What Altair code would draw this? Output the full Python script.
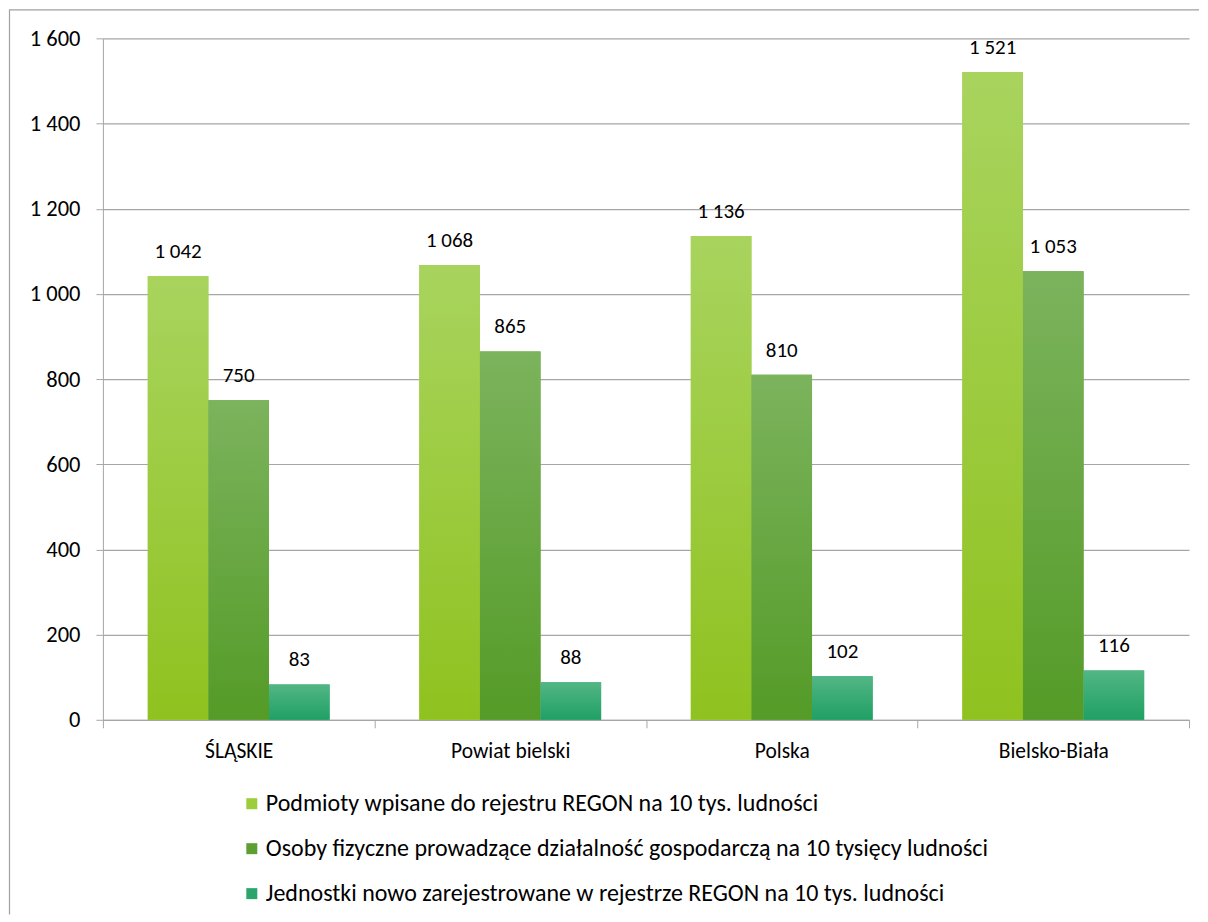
import altair as alt
import pandas as pd

categories = ["ŚLĄSKIE", "Powiat bielski", "Polska", "Bielsko-Biała"]
series = [
    "Podmioty wpisane do rejestru REGON na 10 tys. ludności",
    "Osoby fizyczne prowadzące działalność gospodarczą na 10 tysięcy ludności",
    "Jednostki nowo zarejestrowane w rejestrze REGON na 10 tys. ludności",
]
podmioty = [1042, 1068, 1136, 1521]
osoby = [750, 865, 810, 1053]
jednostki = [83, 88, 102, 116]
y_ticks = [0, 200, 400, 600, 800, 1000, 1200, 1400, 1600]

flat_colors = ["#9ccd3c", "#5d9f33", "#2ba56c"]
grad_stops = [
    ("#a8d45e", "#8fc21f"),
    ("#7cb35d", "#549b27"),
    ("#52b685", "#20a064"),
]

rows = []
for s, vals in zip(series, [podmioty, osoby, jednostki]):
    for c, v in zip(categories, vals):
        rows.append({"category": c, "series": s, "value": v})
df = pd.DataFrame(rows)

FONT = "Carlito, Lato, Open Sans, sans-serif"
GRID = "#a6a6a6"

base = alt.Chart(df)

x_enc = alt.X(
    "category:N",
    sort=categories,
    scale=alt.Scale(domain=categories, paddingInner=0, paddingOuter=0),
    axis=alt.Axis(
        title=None,
        labelAngle=0,
        tickBand="extent",
        tickSize=8,
        tickColor=GRID,
        domainColor=GRID,
        labelFontSize=21.5,
        labelFont=FONT,
        labelColor="#000000",
        labelPadding=13,
        grid=False,
    ),
)
xo_enc = alt.XOffset(
    "series:N",
    sort=series,
    scale=alt.Scale(domain=series, paddingInner=0, paddingOuter=0.74),
)
y_enc = alt.Y(
    "value:Q",
    scale=alt.Scale(domain=[0, 1600], nice=False),
    axis=alt.Axis(
        title=None,
        values=y_ticks,
        tickSize=7,
        tickColor=GRID,
        domainColor=GRID,
        gridColor=GRID,
        gridWidth=1.2,
        labelFontSize=22.5,
        labelFont=FONT,
        labelColor="#000000",
        labelPadding=16,
        labelExpr="replace(format(datum.value, ','), ',', ' ')",
    ),
)

flat = base.mark_bar().encode(
    x=x_enc,
    xOffset=xo_enc,
    y=y_enc,
    color=alt.Color(
        "series:N",
        sort=series,
        scale=alt.Scale(domain=series, range=flat_colors),
        legend=alt.Legend(
            title=None,
            orient="none",
            legendX=137,
            legendY=754,
            direction="vertical",
            symbolType="square",
            symbolSize=121,
            symbolStrokeWidth=0,
            labelFontSize=24,
            labelFont=FONT,
            labelColor="#000000",
            labelLimit=1000,
            labelOffset=2,
            rowPadding=21,
        ),
    ),
)

grad_layers = []
for s, (top, bottom) in zip(series, grad_stops):
    g = alt.Gradient(
        gradient="linear",
        stops=[alt.GradientStop(color=top, offset=0), alt.GradientStop(color=bottom, offset=1)],
        x1=0, x2=0, y1=0, y2=1,
    )
    grad_layers.append(
        base.transform_filter(alt.datum.series == s)
        .mark_bar(color=g)
        .encode(x=x_enc, xOffset=xo_enc, y=y_enc)
    )

labels = base.transform_calculate(
    label="replace(format(datum.value, ','), ',', ' ')"
).mark_text(
    dy=-18, baseline="alphabetic", fontSize=21, font=FONT, color="#000000"
).encode(x=x_enc, xOffset=xo_enc, y=y_enc, text="label:N")

frame_data = alt.Data(values=[{"a": 1}])
frame_v = alt.Chart(frame_data).mark_rule(color="#a0a0a0", strokeWidth=1.2).encode(
    x=alt.value(-93.5), y=alt.value(-28.5), y2=alt.value(877)
)
frame_h = alt.Chart(frame_data).mark_rule(color="#a0a0a0", strokeWidth=1.2).encode(
    x=alt.value(-94), x2=alt.value(1097), y=alt.value(-28.5)
)

chart = alt.layer(frame_v, frame_h, flat, *grad_layers, labels).properties(
    width=1087, height=682, padding=0
).configure_view(stroke=None)

chart.save("out.html", embed_options={"renderer": "svg", "actions": False})
